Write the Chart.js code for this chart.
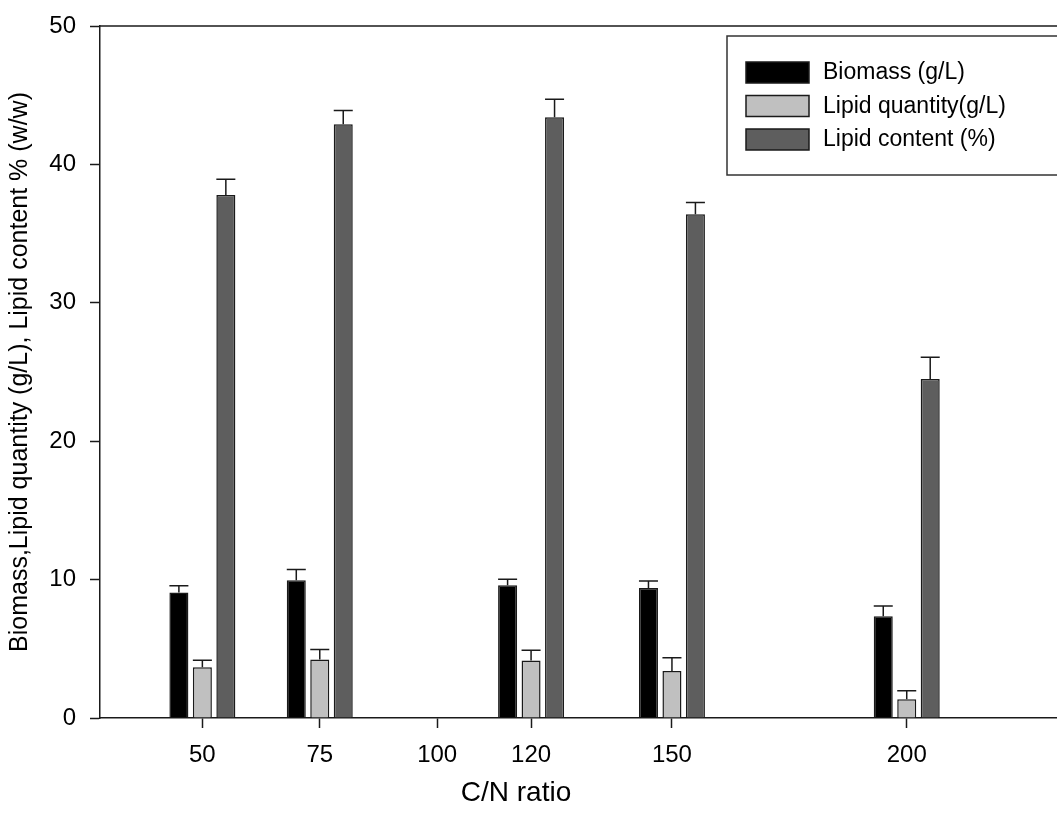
<!DOCTYPE html>
<html>
<head>
<meta charset="utf-8">
<script src="https://cdn.jsdelivr.net/npm/chart.js@4/dist/chart.umd.min.js"></script>
<style>
  html, body { margin: 0; padding: 0; background: #fff; }
  #wrap { position: relative; width: 1057px; height: 834px; }
</style>
</head>
<body>
<div id="wrap"><canvas id="chart"></canvas></div>
<script>
// C/N ratio of each measured group, and the ticks shown on the axis
const cnRatio = [50, 75, 120, 150, 200];
const cnTicks = [50, 75, 100, 120, 150, 200];

const biomass = [9.07, 9.96, 9.6, 9.4, 7.36];
const biomassErr = [0.48, 0.77, 0.42, 0.5, 0.74];
const lipidQty = [3.66, 4.23, 4.15, 3.4, 1.35];
const lipidQtyErr = [0.52, 0.72, 0.75, 0.95, 0.62];
const lipidContent = [37.78, 42.9, 43.4, 36.4, 24.5];
const lipidContentErr = [1.15, 1.0, 1.3, 0.85, 1.56];

const FONT = "'Liberation Sans', Arial, sans-serif";
const INK = '#1a1a1a';

const toPoints = (vals) => vals.map((v, i) => ({ x: cnRatio[i], y: v }));

// upper error bars with a cap
const errorBars = {
  id: 'errorBars',
  afterDatasetsDraw(chart) {
    const { ctx, scales: { y } } = chart;
    ctx.save();
    ctx.strokeStyle = INK;
    ctx.lineWidth = 1.5;
    chart.data.datasets.forEach((ds, di) => {
      const meta = chart.getDatasetMeta(di);
      meta.data.forEach((bar, i) => {
        const top = y.getPixelForValue(ds.data[i].y + ds.errors[i]);
        const half = bar.width / 2;
        ctx.beginPath();
        ctx.moveTo(bar.x, bar.y);
        ctx.lineTo(bar.x, top);
        ctx.moveTo(bar.x - half, top);
        ctx.lineTo(bar.x + half, top);
        ctx.stroke();
      });
    });
    ctx.restore();
  }
};

// top frame line, boxed legend and x title
const decorations = {
  id: 'decorations',
  afterDraw(chart) {
    const { ctx, chartArea: a } = chart;
    ctx.save();
    ctx.strokeStyle = INK;
    ctx.lineWidth = 1.5;
    ctx.beginPath();
    ctx.moveTo(a.left, a.top);
    ctx.lineTo(a.right, a.top);
    ctx.stroke();

    // legend box
    const lx = a.right - 330, ly = a.top + 10;
    ctx.strokeStyle = '#333';
    ctx.strokeRect(lx, ly, 400, 139);
    ctx.font = `23px ${FONT}`;
    ctx.textBaseline = 'middle';
    ctx.textAlign = 'left';
    chart.data.datasets.forEach((ds, i) => {
      const ry = ly + 26 + i * 33.5;
      ctx.fillStyle = ds.backgroundColor;
      ctx.fillRect(lx + 19, ry, 63, 21);
      ctx.strokeStyle = INK;
      ctx.strokeRect(lx + 19, ry, 63, 21);
      ctx.fillStyle = '#000';
      ctx.fillText(ds.label, lx + 96, ry + 11);
    });

    // x axis title
    ctx.font = `28px ${FONT}`;
    ctx.textAlign = 'center';
    ctx.fillText('C/N ratio', 516, 793);
    ctx.restore();
  }
};

const barStyle = {
  borderColor: INK,
  borderWidth: 1.5,
  categoryPercentage: 0.75,
  barPercentage: 0.81
};

new Chart(document.getElementById('chart'), {
  type: 'bar',
  data: {
    datasets: [
      { label: 'Biomass (g/L)', data: toPoints(biomass), errors: biomassErr, backgroundColor: '#000000', ...barStyle },
      { label: 'Lipid quantity(g/L)', data: toPoints(lipidQty), errors: lipidQtyErr, backgroundColor: '#c0c0c0', ...barStyle },
      { label: 'Lipid content (%)', data: toPoints(lipidContent), errors: lipidContentErr, backgroundColor: '#5e5e5e', ...barStyle }
    ]
  },
  plugins: [errorBars, decorations],
  options: {
    responsive: true,
    maintainAspectRatio: false,
    animation: false,
    layout: { padding: { top: 20, right: 0, left: 0, bottom: 0 } },
    plugins: { legend: { display: false }, tooltip: { enabled: false } },
    scales: {
      x: {
        type: 'linear',
        offset: false,
        min: 28.2,
        max: 232,
        afterBuildTicks(scale) { scale.ticks = cnTicks.map((v) => ({ value: v })); },
        afterFit(scale) { scale.height = 116; },
        ticks: { color: '#000', font: { family: FONT, size: 24 }, padding: 13, maxRotation: 0, autoSkip: false, callback: (v) => String(v) },
        grid: { offset: false, drawOnChartArea: false, tickLength: 10, tickColor: INK, tickWidth: 1.5 },
        border: { color: INK, width: 1.5 }
      },
      y: {
        min: 0,
        max: 50,
        afterFit(scale) { scale.width = 100; },
        ticks: { stepSize: 10, color: '#000', font: { family: FONT, size: 24, lineHeight: 1 }, padding: 14 },
        grid: { drawOnChartArea: false, tickLength: 10, tickColor: INK, tickWidth: 1.5 },
        border: { color: INK, width: 1.5 },
        title: {
          display: true,
          text: 'Biomass,Lipid quantity (g/L), Lipid content % (w/w)',
          color: '#000',
          font: { family: FONT, size: 25 },
          padding: { top: 5, bottom: 0 }
        }
      }
    }
  }
});
</script>
</body>
</html>
